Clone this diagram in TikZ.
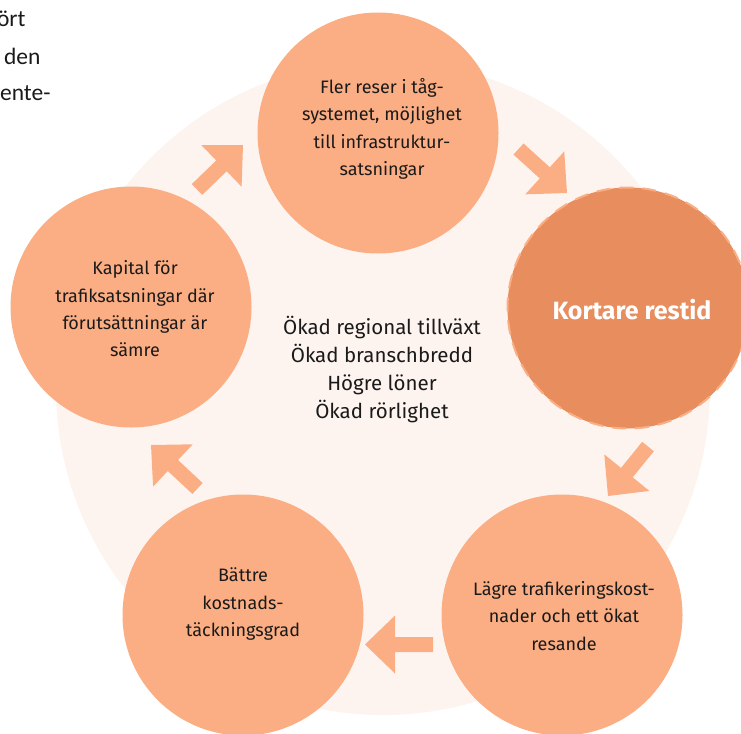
\documentclass[tikz,border=0pt]{standalone}
\usepackage{fontspec}
\setmainfont{Fira Sans}
\newfontfamily\sidefont{Carlito}
\usetikzlibrary{calc}
\definecolor{bgpink}{HTML}{FDF4F0}
\definecolor{peach}{HTML}{FBAE83}
\definecolor{darkpeach}{HTML}{E88D5D}
\definecolor{ink}{HTML}{1A1A1A}
\tikzset{
  bubble/.style={circle, fill=peach, minimum size=241pt, inner sep=0pt},
  hotbubble/.style={circle, fill=darkpeach, minimum size=241pt, inner sep=0pt,
    draw=peach, line width=2pt, dash pattern=on 14pt off 9pt},
  bubbletext/.style={text=ink, align=center, font=\fontsize{18}{27.3}\selectfont},
  hottext/.style={text=white, font=\fontsize{25}{28}\selectfont\bfseries},
  centertext/.style={text=ink, align=center, font=\fontsize{20.5}{28}\selectfont},
  sidetext/.style={text=ink, anchor=base east, font=\sidefont\fontsize{23.5}{30}\selectfont},
  blockarrow/.style={fill=peach},
}
\newcommand{\blockarr}[2]{%
  \path[blockarrow] ($(#1)!7.5pt!90:(#2)$)
    -- ($($(#2)!30pt!(#1)$)!7.5pt!90:(#2)$)
    -- ($($(#2)!30pt!(#1)$)!29pt!90:(#2)$)
    -- (#2)
    -- ($($(#2)!30pt!(#1)$)!29pt!-90:(#2)$)
    -- ($($(#2)!30pt!(#1)$)!7.5pt!-90:(#2)$)
    -- ($(#1)!7.5pt!-90:(#2)$) -- cycle;}
\begin{document}
\begin{tikzpicture}[x=1pt,y=-1pt]
  \useasboundingbox (0,0) rectangle (741,733);
  \clip (0,0) rectangle (741,733);
  % background disc
  \node[circle, fill=bgpink, minimum size=654pt, inner sep=0pt] (bg) at (383,388) {};
  % leftover page text
  \node[sidetext] (s1) at (29,27) {ört};
  \node[sidetext] (s2) at (44,65) {den};
  \node[sidetext] (s3) at (54,101) {ente-};
  % circles
  \node[bubble] (top) at (378,133) {};
  \node[bubble] (left) at (131,307) {};
  \node[hotbubble] (right) at (628,308) {};
  \node[bubble] (br) at (562,615) {};
  \node[bubble] (bl) at (243,615) {};
  % texts
  \node[bubbletext] (ttop) at (382,129) {Fler reser i tåg-\\systemet, möjlighet\\till infrastruktur-\\satsningar};
  \node[bubbletext] (tleft) at (135,309) {Kapital för\\trafiksatsningar där\\förutsättningar är\\sämre};
  \node[hottext] (tright) at (632,310) {Kortare restid};
  \node[bubbletext] (tbr) at (564,616) {Lägre trafikeringskost-\\nader och ett ökat\\resande};
  \node[bubbletext] (tbl) at (243,604) {Bättre\\kostnads-\\täckningsgrad};
  \node[centertext] (mid) at (382,370) {Ökad regional tillväxt\\Ökad branschbredd\\Högre löner\\Ökad rörlighet};
  % block arrows
  \coordinate (a1s) at (197,189.5);   \coordinate (a1t) at (243,145);
  \coordinate (a2s) at (518.5,149);   \coordinate (a2t) at (567,193);
  \coordinate (a3s) at (648,446.5);   \coordinate (a3t) at (608,496);
  \coordinate (a4s) at (433,644.5);   \coordinate (a4t) at (365,644.5);
  \coordinate (a5s) at (197.5,488.5); \coordinate (a5t) at (151,445);
  \blockarr{a1s}{a1t}
  \blockarr{a2s}{a2t}
  \blockarr{a3s}{a3t}
  \blockarr{a4s}{a4t}
  \blockarr{a5s}{a5t}
\end{tikzpicture}
\end{document}
